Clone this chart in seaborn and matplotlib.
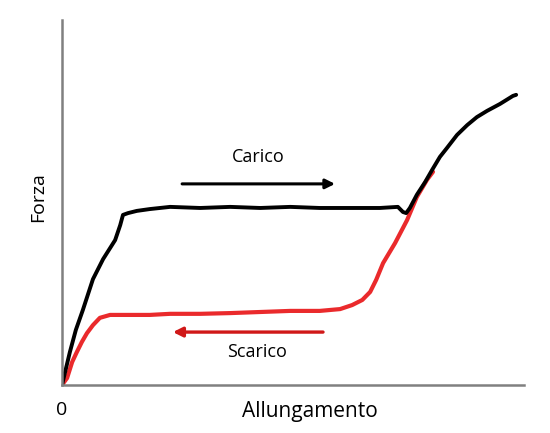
import numpy as np
import pandas as pd
import matplotlib
matplotlib.use("Agg")
import matplotlib.pyplot as plt
import seaborn as sns

# curve di carico / scarico (unita' arbitrarie 0-100)
carico_x = [0, 1.7, 3.0, 4.5, 6.7, 8.9, 11.5, 12.6, 13.2, 14.3, 16.2, 19.0, 23.4, 29.9,
            36.4, 42.9, 49.4, 55.8, 62.3, 68.8, 72.7, 73.8, 74.5, 75.3, 76.8, 78.6,
            80.1, 81.8, 83.3, 85.5, 87.7, 89.8, 92.0, 94.8, 97.6, 98.3]
carico_y = [0, 9.0, 15.1, 20.5, 29.0, 34.5, 39.7, 43.8, 46.6, 47.1, 47.7, 48.2, 48.8, 48.5,
            48.8, 48.5, 48.8, 48.5, 48.5, 48.5, 48.8, 47.4, 47.1, 48.5, 52.1, 55.6,
            58.9, 62.5, 64.9, 68.5, 71.2, 73.4, 75.1, 77.0, 79.2, 79.5]

scarico_x = [0, 1.1, 2.2, 3.2, 4.3, 5.4, 6.7, 8.2, 10.4, 14.7, 19.0, 23.4, 29.9, 36.4,
             42.9, 49.4, 55.8, 60.2, 62.8, 65.0, 66.7, 68.0, 69.5, 72.1, 74.7, 76.8,
             79.0, 80.3]
scarico_y = [0, 1.9, 6.3, 9.0, 11.8, 14.2, 16.4, 18.4, 19.2, 19.2, 19.2, 19.5, 19.5, 19.7,
             20.0, 20.3, 20.3, 20.8, 21.9, 23.3, 25.5, 28.8, 33.4, 38.9, 45.2, 51.5,
             56.2, 58.4]

df_c = pd.DataFrame({"x": carico_x, "y": carico_y})
df_s = pd.DataFrame({"x": scarico_x, "y": scarico_y})

sns.set_style("white")
plt.rcParams["font.family"] = ["Open Sans", "DejaVu Sans"]
plt.rcParams["text.color"] = "black"

fig = plt.figure(figsize=(5.5, 4.33), dpi=100)
ax = fig.add_axes([62 / 550, 48 / 433, 462 / 550, 365 / 433])

rosso = "#ea2a2c"
sns.lineplot(data=df_s, x="x", y="y", ax=ax, color=rosso, lw=3.0, sort=False, estimator=None)
sns.lineplot(data=df_c, x="x", y="y", ax=ax, color="black", lw=2.8, sort=False, estimator=None)

ax.set_xlim(0, 100)
ax.set_ylim(0, 100)
ax.set_xticks([])
ax.set_yticks([])
ax.set_xlabel("")
ax.set_ylabel("")
for s in ["top", "right"]:
    ax.spines[s].set_visible(False)
for s in ["left", "bottom"]:
    ax.spines[s].set_color("#808080")
    ax.spines[s].set_linewidth(1.8)

# frecce
ax.annotate("", xy=(59.1, 55.1), xytext=(26.0, 55.1),
            arrowprops=dict(arrowstyle="-|>", color="black", lw=2.2,
                            mutation_scale=14, shrinkA=0, shrinkB=0))
ax.annotate("", xy=(24.0, 14.5), xytext=(56.5, 14.5),
            arrowprops=dict(arrowstyle="-|>", color="#d01818", lw=2.4,
                            mutation_scale=14, shrinkA=0, shrinkB=0))
ax.text(42.4, 62.5, "Carico", ha="center", va="center", fontsize=13)
ax.text(42.2, 9.0, "Scarico", ha="center", va="center", fontsize=13)

ax.text(0, -6.8, "0", ha="center", va="center", fontsize=14, clip_on=False)
ax.text(53.7, -7.2, "Allungamento", ha="center", va="center", fontsize=15, clip_on=False)
ax.text(-5.2, 51.5, "Forza", ha="center", va="center", rotation=90, fontsize=14,
        clip_on=False)

fig.savefig("out.png", dpi=100)
